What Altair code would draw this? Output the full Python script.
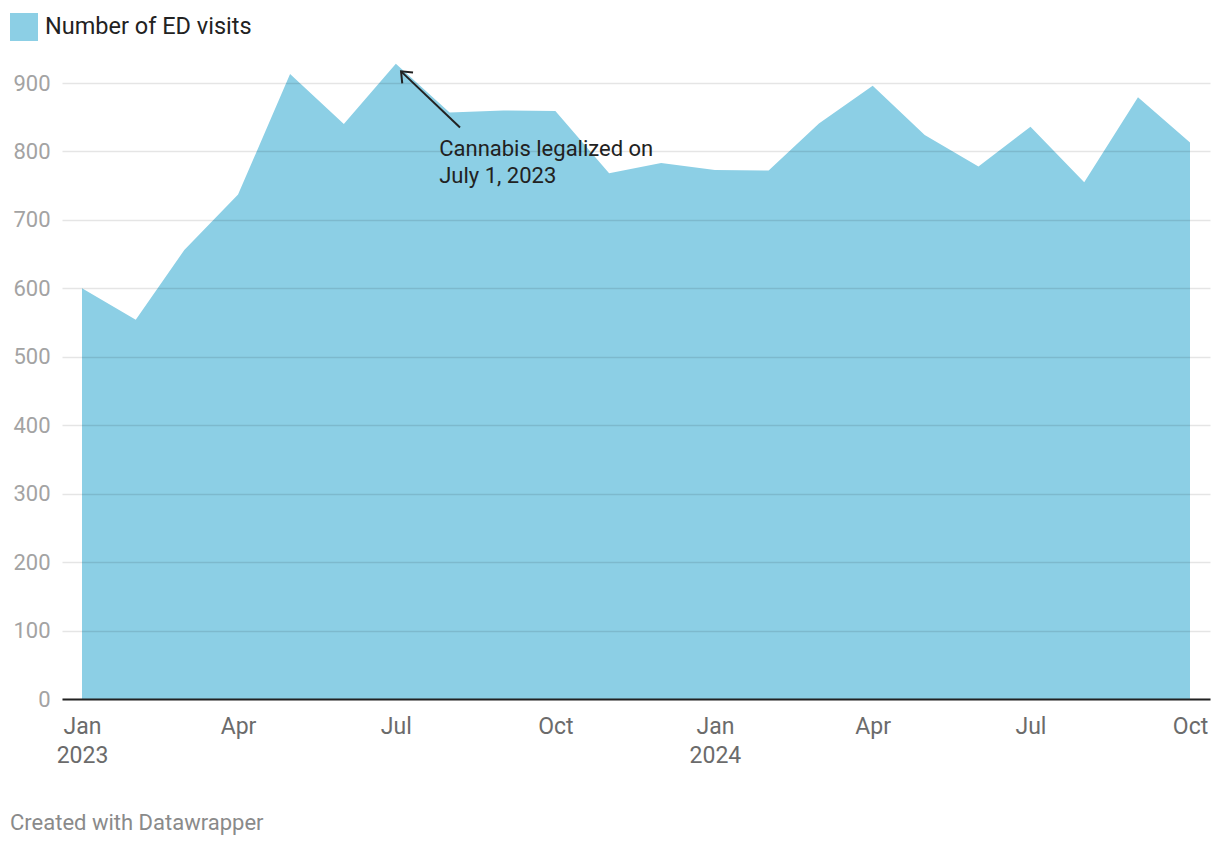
import altair as alt
import pandas as pd

# ---- data ----
months = [
    "2023-01-01", "2023-02-01", "2023-03-01", "2023-04-01", "2023-05-01", "2023-06-01",
    "2023-07-01", "2023-08-01", "2023-09-01", "2023-10-01", "2023-11-01", "2023-12-01",
    "2024-01-01", "2024-02-01", "2024-03-01", "2024-04-01", "2024-05-01", "2024-06-01",
    "2024-07-01", "2024-08-01", "2024-09-01", "2024-10-01",
]
visits = [600, 554, 656, 737, 913, 840, 928, 857, 860, 859, 768, 783,
          773, 772, 841, 896, 824, 778, 836, 755, 879, 813]
series_name = "Number of ED visits"
y_ticks = [0, 100, 200, 300, 400, 500, 600, 700, 800, 900]
x_ticks = ["2023-01-01", "2023-04-01", "2023-07-01", "2023-10-01",
           "2024-01-01", "2024-04-01", "2024-07-01", "2024-10-01"]

annotation_lines = ["Cannabis legalized on", "July 1, 2023"]
annotation_date = ["2023-07-26"]
annotation_value = [793]
arrow_tail_date = ["2023-08-07"]
arrow_tail_value = [835]
arrow_head_date = ["2023-07-04"]
arrow_head_value = [917]
footer = "Created with Datawrapper"

# ---- tables ----
df = pd.DataFrame({"date": months, "visits": visits, "series": series_name})
x_tick_ms = [int(pd.Timestamp(d, tz="UTC").value // 10**6) for d in x_ticks]
text_df = pd.DataFrame({"date": annotation_date, "value": annotation_value})
rule_df = pd.DataFrame({"date": arrow_tail_date, "value": arrow_tail_value,
                        "date2": arrow_head_date, "value2": arrow_head_value})
head_df = pd.DataFrame({"date": arrow_head_date, "value": arrow_head_value})

FONT = "Roboto"
BLUE = "#8ccfe5"
INK = "#222222"

label_expr = ("utcmonth(datum.value) == 0 ? [utcFormat(datum.value, '%b'), "
              "utcFormat(datum.value, '%Y')] : utcFormat(datum.value, '%b')")

x_enc = alt.X(
    "date:T",
    scale=alt.Scale(type="utc", padding=20, nice=False),
    axis=alt.Axis(
        values=x_tick_ms, labelExpr=label_expr, title=None, ticks=False, grid=False,
        domainColor=INK, domainWidth=2, labelFontSize=23, labelColor="#6b6b6b",
        labelPadding=16, labelLineHeight=29, labelOverlap=False, labelBound=False,
        labelFlush=False, labelFont=FONT, zindex=1,
    ),
)

area = alt.Chart(df).mark_area(clip=False, opacity=1).encode(
    x=x_enc,
    y=alt.Y(
        "visits:Q",
        scale=alt.Scale(domain=[0, 900], nice=False, zero=True),
        axis=alt.Axis(
            values=y_ticks, title=None, domain=False, ticks=False, labelPadding=12,
            labelFontSize=22, labelColor="#a3a3a3", labelFont=FONT,
            gridColor="#000000", gridOpacity=0.1, gridWidth=1.5, zindex=1,
        ),
    ),
    color=alt.Color(
        "series:N",
        scale=alt.Scale(range=[BLUE]),
        legend=alt.Legend(
            title=None, orient="none", legendX=-52, legendY=-70, symbolType="square",
            symbolSize=784, symbolStrokeWidth=0, symbolOpacity=1, labelFontSize=23.5,
            labelColor=INK, labelOffset=7, padding=0, labelFont=FONT, labelLimit=0,
        ),
    ),
)

rule = alt.Chart(rule_df).mark_rule(strokeWidth=2, color=INK).encode(
    x="date:T", y="value:Q", x2="date2:T", y2="value2:Q"
)

head = alt.Chart(head_df).mark_point(
    shape="M 1 0.1 L 0 0 L 0.1 1", filled=False, size=576, strokeWidth=2,
    color=INK, opacity=1,
).encode(x="date:T", y="value:Q")

text = alt.Chart(text_df).mark_text(
    text=annotation_lines, lineHeight=27, align="left", baseline="alphabetic",
    fontSize=22, font=FONT, color=INK,
).encode(x="date:T", y="value:Q")

chart = alt.layer(area, rule, head, text).properties(
    width=1148,
    height=616,
    autosize=alt.AutoSizeParams(type="none"),
    padding={"left": 54, "top": 75, "right": 2, "bottom": 140},
    title=alt.TitleParams(
        footer, orient="bottom", anchor="start", frame="group", dx=-52, offset=46,
        fontSize=22, color="#8a8a8a", font=FONT, fontWeight="normal",
    ),
).configure(font=FONT).configure_view(stroke=None)

chart.save("out.html", embed_options={"renderer": "svg", "actions": False})
